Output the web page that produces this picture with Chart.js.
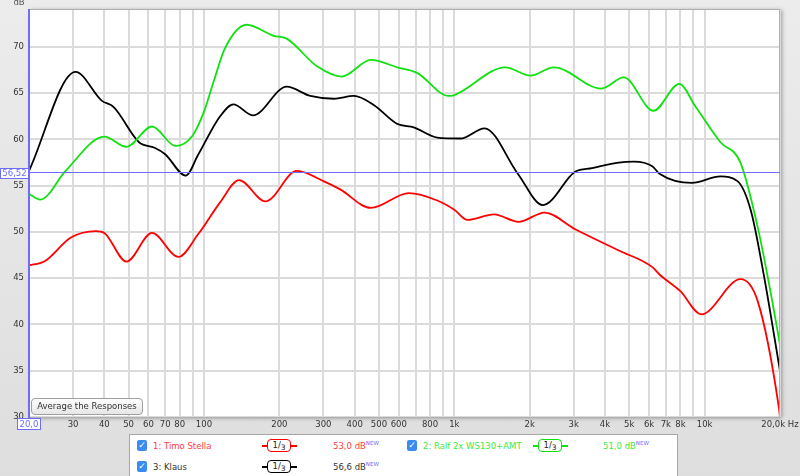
<!DOCTYPE html>
<html>
<head>
<meta charset="utf-8">
<script src="https://cdn.jsdelivr.net/npm/chart.js@4.4.1/dist/chart.umd.min.js"></script>
<style>
  body { margin: 0; background: #e4e4e4; font-family: "DejaVu Sans", sans-serif; }
  #wrap { position: relative; width: 800px; height: 476px; overflow: hidden;
          background: linear-gradient(#ececec, #dedede); }
  canvas { position: absolute; left: 0; top: 0; }
  #avg { position: absolute; left: 31px; top: 398px; width: 110px; height: 15px;
         border: 1px solid #a0a0a0; border-radius: 4px; font-size: 8.5px; color: #333;
         background: linear-gradient(#fefefe, #e6e6e6); text-align: center; line-height: 15px; }
  #legend { position: absolute; left: 129px; top: 434px; width: 547px; height: 50px;
            background: #fff; border: 1px solid #a6a6a6; }
  .it { position: absolute; font-size: 8.5px; line-height: 12px; height: 12px; white-space: nowrap; }
  .cb { position: absolute; width: 10px; height: 11px; border-radius: 2px; background: #3b8cf2;
        color: #fff; font-size: 9px; line-height: 11px; text-align: center; }
  .flt { position: absolute; width: 22px; height: 11px; border: 1.5px solid; border-radius: 4px;
         font-size: 8.5px; line-height: 10px; color: #222; text-align: center; background: #fff; }
  .tail { position: absolute; height: 1.5px; width: 6px; }
  sup { font-size: 5.5px; color: #6b6bff; line-height: 0; vertical-align: 0; position: relative; top: -4px; }
</style>
</head>
<body>
<div id="wrap">
  <canvas id="fr" width="800" height="476"></canvas>
  <div id="avg">Average the Responses</div>
  <div id="legend"></div>
</div>
<script>
// frequency response readings (Hz / dB)
const timoFreq = [20, 23, 29.4, 37, 40, 49, 62, 79, 95, 116, 138, 176, 235, 300, 350, 464, 658, 855, 1000, 1130, 1440, 1810, 2290, 3040, 4540, 6180, 6600, 8000, 9700, 13900, 16300, 19800, 20000];
const timoDb = [46.4, 46.8, 49.4, 50.1, 49.9, 46.8, 49.9, 47.3, 49.8, 53.2, 55.6, 53.3, 56.6, 55.5, 54.6, 52.6, 54.2, 53.4, 52.4, 51.3, 51.9, 51.1, 52.1, 50.3, 48.0, 46.2, 45.4, 43.6, 41.1, 44.9, 42.5, 31.0, 30.0];

const ralfFreq = [20, 22.2, 28, 40, 49, 62, 77, 90, 100, 110, 121, 148, 190, 214, 283, 355, 464, 591, 710, 950, 1000, 1600, 2015, 2495, 3870, 4750, 6250, 7920, 9220, 11570, 13900, 16300, 18400, 20000];
const ralfDb = [54.1, 53.5, 56.6, 60.3, 59.2, 61.4, 59.3, 60.4, 63.0, 66.5, 69.8, 72.4, 71.2, 70.9, 67.9, 66.8, 68.6, 67.8, 67.2, 64.7, 64.8, 67.8, 66.9, 67.8, 65.5, 66.7, 63.1, 66.0, 63.5, 59.7, 57.5, 50.5, 43.3, 37.8];

const klausFreq = [20, 30.7, 39, 43.6, 55, 63.5, 70, 84.5, 95, 116, 131, 157, 214, 266, 330, 397, 478, 590, 689, 855, 1058, 1321, 1793, 2260, 3036, 3550, 4537, 5210, 6180, 6600, 8900, 11570, 13530, 15300, 17300, 20000];
const klausDb = [56.6, 67.3, 64.2, 63.5, 59.7, 59.1, 58.4, 56.1, 58.4, 62.5, 63.8, 62.6, 65.7, 64.7, 64.4, 64.7, 63.7, 61.7, 61.3, 60.2, 60.1, 61.2, 56.3, 52.9, 56.5, 56.9, 57.5, 57.6, 57.1, 56.3, 55.3, 56.0, 55.5, 52.3, 45.1, 35.0];

const seriesNames = ["1: Timo Stella", "2: Ralf 2x WS130+AMT", "3: Klaus"];
const seriesLevels = ["53,0 dB", "51,0 dB", "56,6 dB"];
const lineColors = ["#ff0000", "#11e011", "#000000"];
const textColors = ["#ff3c3c", "#3ee83e", "#333333"];

const xTickValues = [20, 30, 40, 50, 60, 70, 80, 90, 100, 200, 300, 400, 500, 600, 700, 800, 900,
  1000, 2000, 3000, 4000, 5000, 6000, 7000, 8000, 9000, 10000, 20000];
const xTickLabels = ["", "30", "40", "50", "60", "70", "80", "", "100", "200", "300", "400", "500", "600", "", "800", "",
  "1k", "2k", "3k", "4k", "5k", "6k", "7k", "8k", "", "10k", "20,0k Hz"];
const yTickValues = [30, 35, 40, 45, 50, 55, 60, 65, 70];
const refLevel = 56.52;

function toPoints(freq, db) {
  return freq.map((f, i) => ({ x: f, y: db[i] }));
}

const blue = "#6d6dff";

function tag(ctx, text, x, y, w, h) {
  ctx.fillStyle = "#fff";
  ctx.fillRect(x, y, w, h);
  ctx.strokeStyle = blue;
  ctx.lineWidth = 1;
  ctx.strokeRect(x + 0.5, y + 0.5, w - 1, h - 1);
  ctx.fillStyle = blue;
  ctx.font = "8.5px 'DejaVu Sans'";
  ctx.textAlign = "center";
  ctx.textBaseline = "middle";
  ctx.fillText(text, x + w / 2, y + h / 2 + 0.5);
}

const framePlugin = {
  id: "frame",
  beforeDraw(chart) {
    const { ctx, chartArea: a } = chart;
    ctx.save();
    ctx.shadowColor = "rgba(0,0,0,0.35)";
    ctx.shadowBlur = 4;
    ctx.shadowOffsetX = 2;
    ctx.shadowOffsetY = 1;
    ctx.fillStyle = "#fff";
    ctx.fillRect(a.left, a.top, a.width, a.height);
    ctx.restore();
  },
  afterDatasetsDraw(chart) {
    const { ctx, chartArea: a, scales } = chart;
    ctx.save();
    ctx.strokeStyle = "#b0b0b0";
    ctx.lineWidth = 1;
    ctx.strokeRect(a.left + 0.5, a.top + 0.5, a.width - 1, a.height);

    const yRef = Math.round(scales.y.getPixelForValue(refLevel)) + 0.5;
    ctx.strokeStyle = blue;
    ctx.beginPath();
    ctx.moveTo(a.left, yRef);
    ctx.lineTo(a.right, yRef);
    ctx.stroke();
    ctx.lineWidth = 2;
    ctx.beginPath();
    ctx.moveTo(a.left, a.top);
    ctx.lineTo(a.left, a.bottom + 1);
    ctx.stroke();

    tag(ctx, "56,52", 0, Math.round(yRef) - 5, 29, 11);
    tag(ctx, "20,0", 17, a.bottom + 1, 24, 12);

    ctx.fillStyle = "#555";
    ctx.font = "8.5px 'DejaVu Sans'";
    ctx.textAlign = "center";
    ctx.textBaseline = "alphabetic";
    ctx.fillText("dB", 19, 5);
    ctx.restore();
  }
};

const gridColor = "#dbdbdb";
const tickFont = { family: "DejaVu Sans", size: 8.5 };

new Chart(document.getElementById("fr").getContext("2d"), {
  type: "line",
  data: {
    datasets: [
      { label: seriesNames[0], data: toPoints(timoFreq, timoDb), borderColor: lineColors[0] },
      { label: seriesNames[1], data: toPoints(ralfFreq, ralfDb), borderColor: lineColors[1] },
      { label: seriesNames[2], data: toPoints(klausFreq, klausDb), borderColor: lineColors[2] },
    ],
  },
  options: {
    responsive: false,
    animation: false,
    devicePixelRatio: 1,
    layout: { padding: { top: 9, right: 20, bottom: 0, left: 0 } },
    elements: {
      line: { borderWidth: 1.8, cubicInterpolationMode: "monotone", fill: false },
      point: { radius: 0 },
    },
    plugins: { legend: { display: false }, tooltip: { enabled: false } },
    scales: {
      x: {
        type: "logarithmic",
        min: 20,
        max: 20000,
        afterBuildTicks: (s) => { s.ticks = xTickValues.map((v) => ({ value: v })); },
        afterFit: (s) => { s.height = 59; s.paddingLeft = 0; s.paddingRight = 0; },
        ticks: {
          autoSkip: false,
          maxRotation: 0,
          padding: 3,
          color: "#333",
          font: tickFont,
          callback: (v) => {
            const i = xTickValues.indexOf(v);
            return i < 0 ? "" : xTickLabels[i];
          },
        },
        grid: { color: gridColor, lineWidth: 2, drawTicks: false },
        border: { display: false },
      },
      y: {
        min: 30,
        max: 74.1,
        afterBuildTicks: (s) => { s.ticks = yTickValues.map((v) => ({ value: v })); },
        afterFit: (s) => { s.width = 29; s.paddingTop = 0; s.paddingBottom = 0; },
        ticks: { padding: 5, color: "#333", font: tickFont },
        grid: { color: gridColor, lineWidth: 2, drawTicks: false },
        border: { display: false },
      },
    },
  },
  plugins: [framePlugin],
});

// legend panel below the plot
const legend = document.getElementById("legend");
const cols = [
  { cb: 7, name: 23, flt: 137, lvl: 203 },
  { cb: 277, name: 293, flt: 408, lvl: 473 },
];
const rowCenters = [11, 32];

function add(cls, left, top, html, style) {
  const el = document.createElement("span");
  el.className = cls;
  el.style.left = left + "px";
  el.style.top = top + "px";
  if (html) el.innerHTML = html;
  if (style) Object.assign(el.style, style);
  legend.appendChild(el);
  return el;
}

seriesNames.forEach((name, i) => {
  const c = cols[i % 2];
  const cy = rowCenters[Math.floor(i / 2)];
  add("cb", c.cb, cy - 6, "✓");
  add("it", c.name, cy - 6, name, { color: textColors[i] });
  add("tail", c.flt - 5, cy - 1, "", { background: lineColors[i] });
  add("tail", c.flt + 24, cy - 1, "", { background: lineColors[i] });
  add("flt", c.flt, cy - 7, "1/<span style='position:relative;top:2px;font-size:7.5px'>3</span>", { borderColor: lineColors[i] });
  add("it", c.lvl, cy - 6, seriesLevels[i] + "<sup>NEW</sup>", { color: textColors[i] });
});
</script>
</body>
</html>
